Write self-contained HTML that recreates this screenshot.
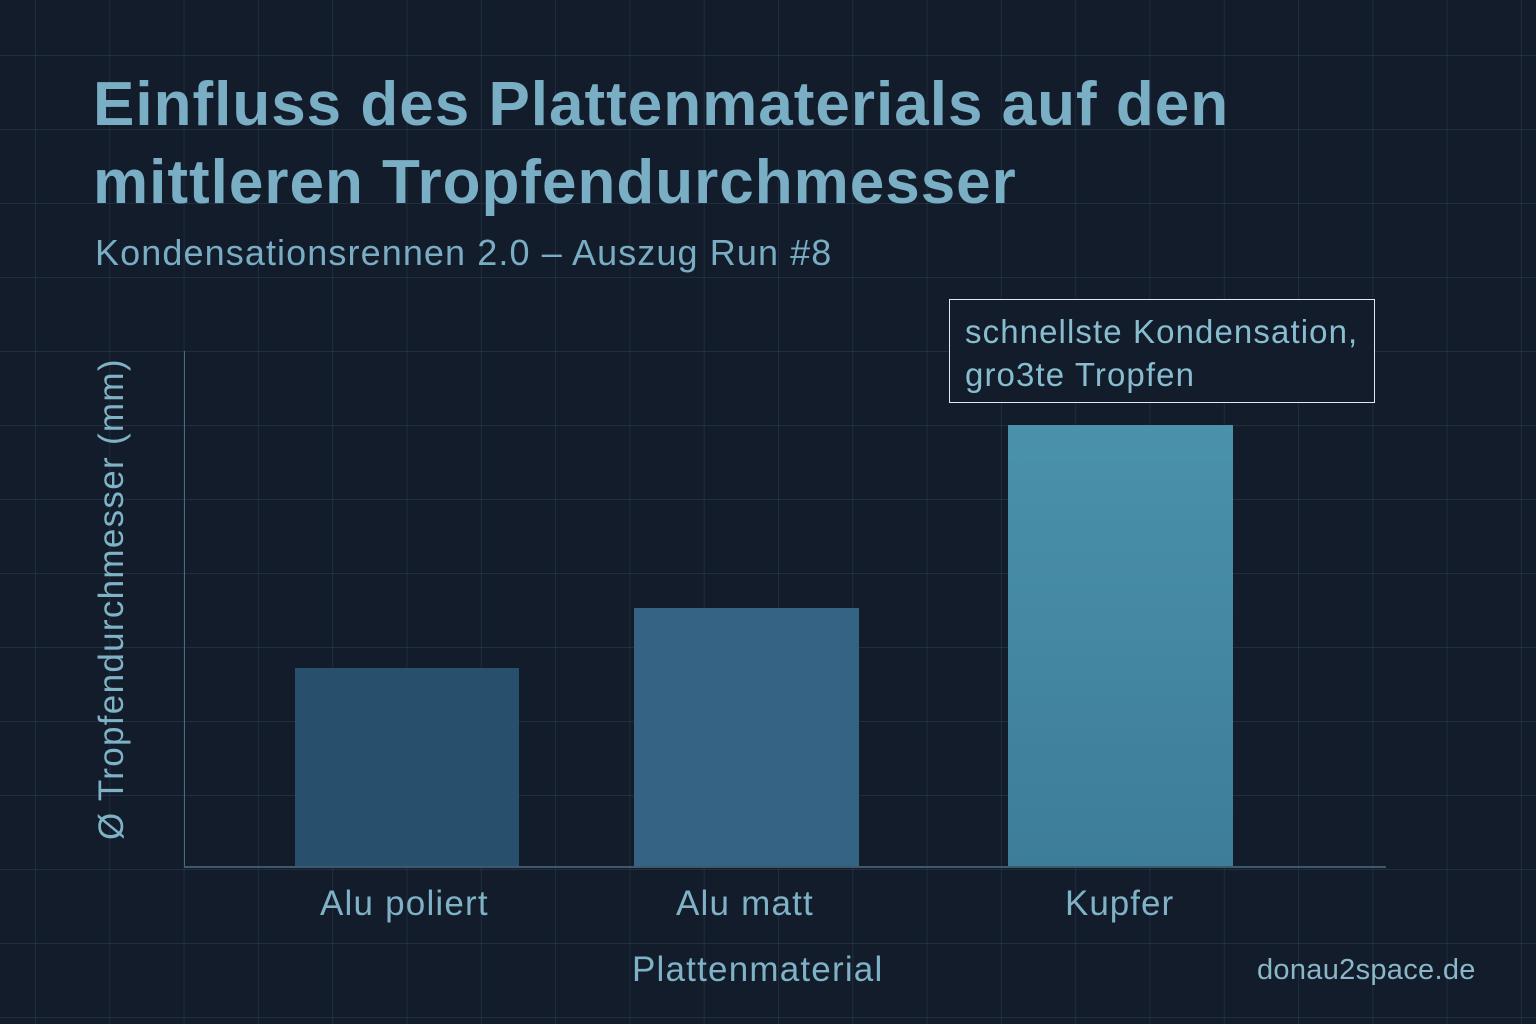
<!DOCTYPE html>
<html><head><meta charset="utf-8"><style>
html,body{margin:0;padding:0}
body{width:1536px;height:1024px;position:relative;overflow:hidden;background-color:#121c2a;
background-image:linear-gradient(rgba(120,160,190,0.13) 1px,transparent 1px),linear-gradient(90deg,rgba(120,160,190,0.13) 1px,transparent 1px);
background-size:74.3px 74px;background-position:35px 55px;font-family:"Liberation Sans","DejaVu Sans",sans-serif;color:#7fb2c6}
.t{position:absolute;white-space:nowrap}
.bar{position:absolute;bottom:158px}
</style></head><body>
<div class="t" style="left:93px;top:66px;font-size:62px;line-height:78px;font-weight:bold;color:#7aaec4;letter-spacing:1px">Einfluss des Plattenmaterials auf den<br>mittleren Tropfendurchmesser</div>
<div class="t" style="left:95px;top:232px;font-size:36px;color:#79adc3;letter-spacing:1.1px">Kondensationsrennen 2.0 – Auszug Run #8</div>
<div style="position:absolute;left:184px;top:351px;width:1px;height:516px;background:#4c6a80"></div>
<div style="position:absolute;left:184px;top:866px;width:1202px;height:2px;background:#3e586c"></div>
<div class="bar" style="left:295px;width:224px;top:668px;background:#284f6c"></div>
<div class="bar" style="left:634px;width:225px;top:608px;background:#356383"></div>
<div class="bar" style="left:1008px;width:225px;top:425px;background:linear-gradient(#4a91ab,#3d7d99)"></div>
<div style="position:absolute;left:949px;top:299px;width:424px;height:102px;border:1.5px solid #dfe8ee;background:#121c2a"></div>
<div class="t" style="left:965px;top:310px;font-size:33px;line-height:43px;color:#88bdd0;letter-spacing:1.1px">schnellste Kondensation,<br>gro3te Tropfen</div>
<div class="t" style="left:320px;top:884px;font-size:35px;letter-spacing:1.2px">Alu poliert</div>
<div class="t" style="left:676px;top:884px;font-size:35px;letter-spacing:1.2px">Alu matt</div>
<div class="t" style="left:1065px;top:884px;font-size:35px;letter-spacing:1px">Kupfer</div>
<div class="t" style="left:632px;top:950px;font-size:35px;letter-spacing:1.2px">Plattenmaterial</div>
<div class="t" style="left:1257px;top:954px;font-size:29px;color:#8ab7c8;letter-spacing:0.3px">donau2space.de</div>
<div class="t" style="left:92px;top:840px;font-size:35px;transform:rotate(-90deg);transform-origin:0 0;letter-spacing:1.3px">Ø Tropfendurchmesser (mm)</div>
</body></html>
